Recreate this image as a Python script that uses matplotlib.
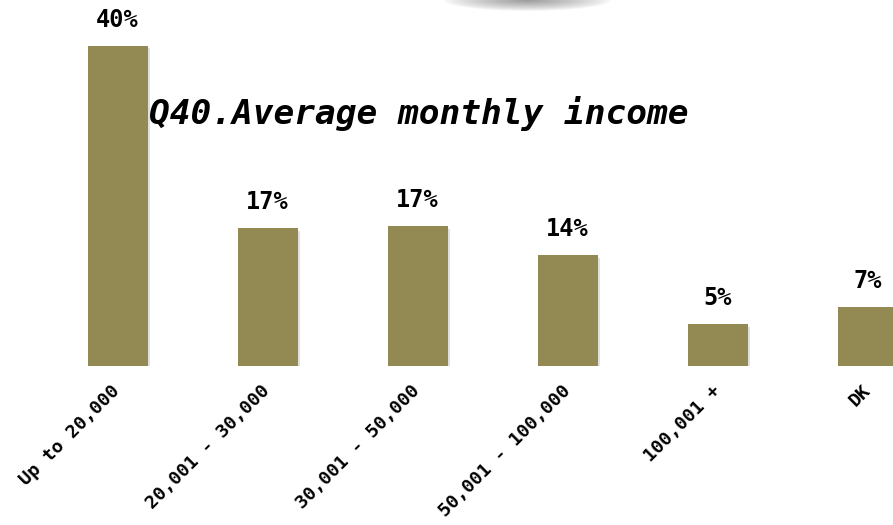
import numpy as np
import matplotlib
matplotlib.use("Agg")
import matplotlib.pyplot as plt
import matplotlib.patheffects as pe

categories = ["Up to 20,000", "20,001 - 30,000", "30,001 - 50,000",
              "50,001 - 100,000", "100,001 +", "DK"]
values = [39.9, 17.2, 17.4, 13.8, 5.2, 7.4]
title = "Q40.Average monthly income"

W, H = 893, 525
fig = plt.figure(figsize=(W / 100, H / 100), dpi=100)
fig.patch.set_facecolor("white")

base_px = 366          # pixel row of the baseline (from top)
px_per_unit = 8.03
spacing = 150.0
first_center = 117.5

ax = fig.add_axes([0, (H - base_px) / H, 1, base_px / H])
ax.set_xlim(-first_center / spacing, (W - first_center) / spacing)
ax.set_ylim(0, base_px / px_per_unit)
ax.axis("off")

x = np.arange(len(categories))
bars = ax.bar(x, values, width=0.4, color="#938953", zorder=3)
for b in bars:
    b.set_path_effects([pe.SimplePatchShadow(offset=(2, -2), shadow_rgbFace="#999999", alpha=0.3),
                        pe.Normal()])

mono = "DejaVu Sans Mono"
for xi, v in zip(x, values):
    ax.annotate(f"{round(v)}%", (xi, v), xytext=(0, 14), textcoords="offset pixels",
                ha="center", va="bottom", fontsize=17, fontweight="bold",
                family=mono, color="black", annotation_clip=False)

for xi, lab in zip(x, categories):
    ax.annotate(lab, (xi, 0), xytext=(0, -22), textcoords="offset pixels",
                ha="right", va="center", rotation=45, rotation_mode="anchor",
                fontsize=13.3, fontweight="bold", family=mono, color="black",
                annotation_clip=False)

fig.text(419 / W, 1 - 114 / H, title, ha="center", va="center", fontsize=24.8,
         family=mono, style="italic", fontweight="bold", color="black")

# soft grey shadow at top centre
sax = fig.add_axes([435 / W, 1 - 14 / H, 185 / W, 14 / H])
sax.axis("off")
nx, ny = 370, 28
gx = np.linspace(-1, 1, nx)
gy = np.linspace(0, 1, ny)
GX, GY = np.meshgrid(gx, gy)
r = np.sqrt((GX / 0.92) ** 2 + (GY / 0.8) ** 2)
alpha = np.clip(1 - r, 0, 1) ** 0.8 * 0.65
img = np.zeros((ny, nx, 4))
img[..., :3] = 0.4
img[..., 3] = alpha
sax.imshow(img, aspect="auto", extent=(0, 1, 0, 1), origin="upper")

fig.savefig("out.png", dpi=100, facecolor="white")
